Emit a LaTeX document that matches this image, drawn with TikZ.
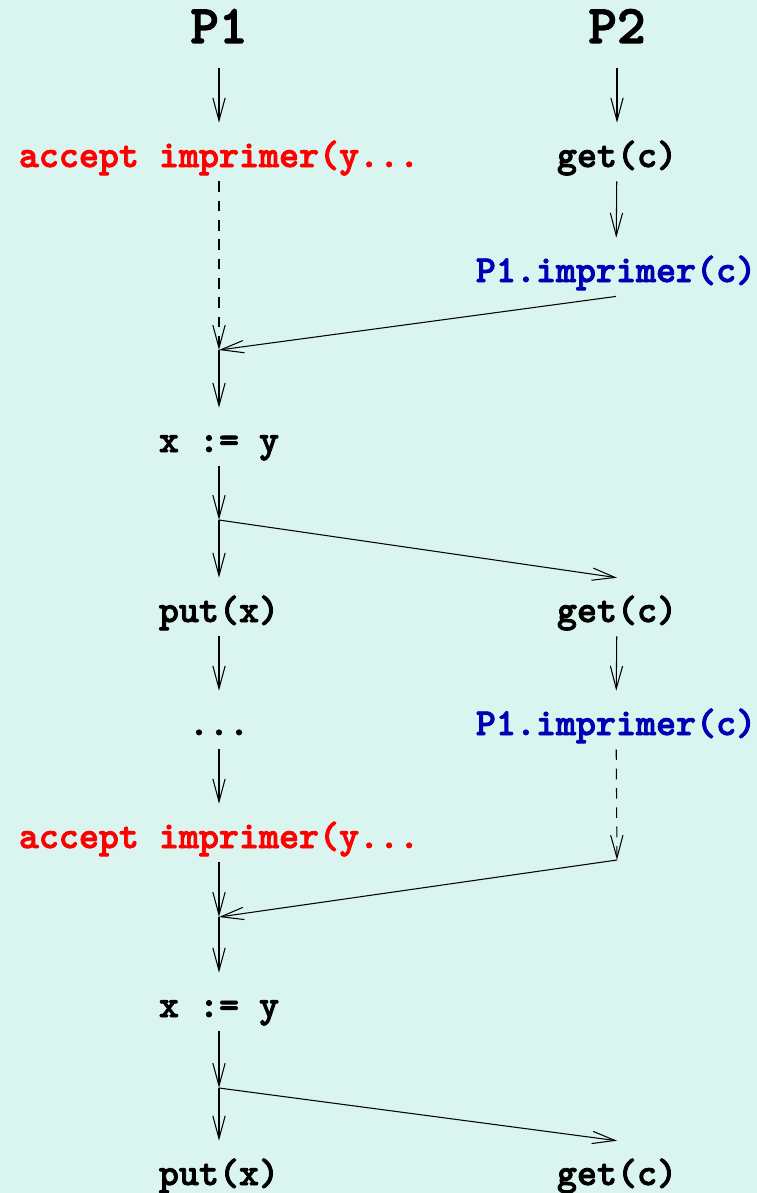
\documentclass[tikz,border=0pt]{standalone}
\usepackage{fontspec}
\usetikzlibrary{arrows.meta,positioning}
\newfontfamily\codefont{lmmonolt10-bold}[Extension=.otf, FakeBold=2.2]
\definecolor{bgcyan}{RGB}{218,245,240}
\definecolor{acceptred}{RGB}{255,0,0}
\definecolor{callblue}{RGB}{0,0,180}

\begin{document}
\begin{tikzpicture}[
    x=0.02cm, y=-0.02cm,
    title/.style={font=\codefont\fontsize{31}{31}\selectfont, inner sep=0pt, text height=18pt, text depth=14pt, anchor=base},
    stmt/.style={font=\codefont\fontsize{21.7}{22}\selectfont, inner sep=0pt, text height=25pt, text depth=8pt, anchor=base},
    flow/.style={-{Straight Barb[length=13pt,width=7pt]}, line width=0.6pt},
    dashflow/.style={flow, dash pattern=on 6pt off 5pt}
]

% Background
\fill[bgcyan] (0,0) rectangle (757,1193);
\useasboundingbox (0,0) rectangle (757,1193);

% Processes
\node[title] (p1) at (219,43) {P1};
\node[title] (p2) at (617,43) {P2};

% P1 column
\node[stmt, text=acceptred] (acc1) at (219,167) {accept imprimer(y...};
\coordinate (rv1) at (219,350);
\node[stmt] (asg1) at (219,452) {x := y};
\coordinate (fk1) at (219,520);
\node[stmt] (put1) at (219,622) {put(x)};
\node[stmt] (dots) at (219,735) {...};
\node[stmt, text=acceptred] (acc2) at (219,848) {accept imprimer(y...};
\coordinate (rv2) at (219,917);
\node[stmt] (asg2) at (219,1017) {x := y};
\coordinate (fk2) at (219,1088);
\node[stmt] (put2) at (219,1185) {put(x)};

% P2 column
\node[stmt] (get1) at (617,167) {get(c)};
\node[stmt, text=callblue] (call1) at (616,282) {P1.imprimer(c)};
\node[stmt] (get2) at (617,622) {get(c)};
\node[stmt, text=callblue] (call2) at (616,735) {P1.imprimer(c)};
\coordinate (wt2) at (617,860);
\node[stmt] (get3) at (617,1185) {get(c)};

% Connections P1
\draw[flow] (p1) -- (acc1);
\draw[dashflow] (acc1) -- (rv1);
\draw[flow] (rv1) -- (asg1);
\draw[flow] (asg1) -- (fk1);
\draw[flow] (fk1) -- (put1);
\draw[flow] (put1) -- (dots);
\draw[flow] (dots) -- (acc2);
\draw[flow] (acc2) -- (rv2);
\draw[flow] (rv2) -- (asg2);
\draw[flow] (asg2) -- (fk2);
\draw[flow] (fk2) -- (put2);

% Connections P2
\draw[flow] (p2) -- (get1);
\draw[flow] (get1) -- (call1);
\draw[flow] (get2) -- (call2);
\draw[dashflow] (call2) -- (wt2);

% Rendezvous
\draw[flow] (call1.south) -- (rv1);
\draw[flow] (fk1) -- (get2.north);
\draw[flow] (wt2) -- (rv2);
\draw[flow] (fk2) -- (get3.north);

\end{tikzpicture}
\end{document}
